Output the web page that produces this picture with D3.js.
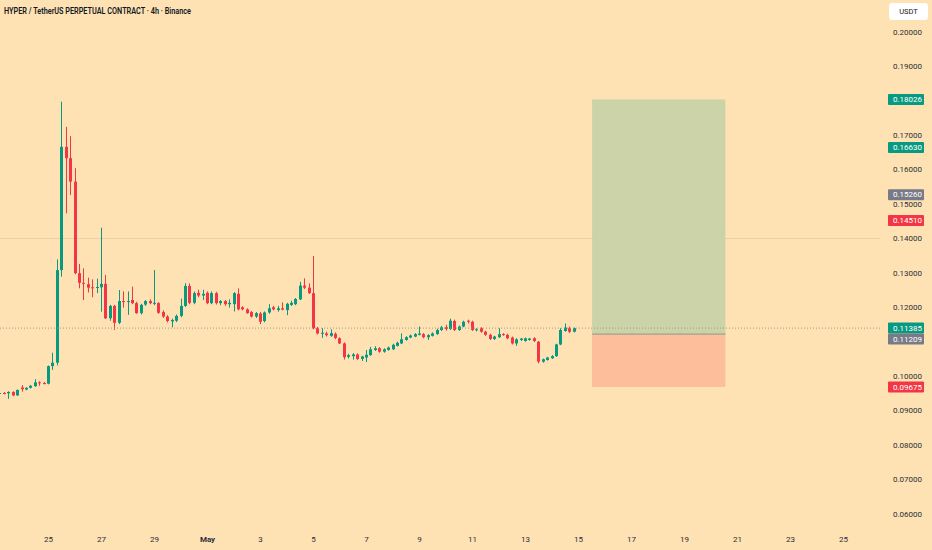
<!DOCTYPE html>
<html><head><meta charset="utf-8">
<script src="https://cdn.jsdelivr.net/npm/d3@7/dist/d3.min.js"></script>
<style>
html,body{margin:0;padding:0;background:#fee2b4;}
svg{display:block;}
text{font-family:Roboto,"Liberation Sans",Arial,sans-serif;}
</style></head>
<body>
<svg id="chart" width="932" height="550"></svg>
<script>
// ---- DATA ----
const title = "HYPER / TetherUS PERPETUAL CONTRACT · 4h · Binance";
const firstCandle = "2025-04-23T04:00:00Z"; // 4h candles
const opens  = [.0948,.0950,.0949,.0953,.0943,.0966,.0960,.0965,.0970,.0981,.0979,
 .0977,.1028,.1038,.1307,.1665,.1632,.1564,.1298,.1270,.1266,.1257,.1255,.1257,.1267,.1167,.1203,.1154,.1217,.1214,.1220,
 .1211,.1182,.1207,.1217,.1210,.1211,.1185,.1172,.1158,.1160,.1174,.1203,.1261,.1212,.1241,.1233,.1241,.1211,.1240,.1211,
 .1217,.1208,.1208,.1238,.1199,.1193,.1185,.1172,.1181,.1159,.1184,.1199,.1191,.1196,.1191,.1206,.1208,.1222,.1262,.1256,
 .1240,.1138,.1122,.1123,.1116,.1122,.1109,.1094,.1055,.1057,.1062,.1049,.1053,.1060,.1075,.1080,.1070,.1075,.1077,.1087,
 .1094,.1104,.1111,.1114,.1119,.1121,.1112,.1116,.1121,.1133,.1141,.1136,.1159,.1133,.1143,.1160,.1157,.1133,.1138,.1128,
 .1119,.1107,.1112,.1121,.1119,.1111,.1094,.1104,.1101,.1104,.1109,.1099,.1041,.1046,.1051,.1057,.1091,.1130,.1138,.1128];
const highs  = [.0952,.0953,.0955,.0955,.0960,.0973,.0967,.0973,.0990,.0984,.0982,
 .1030,.1067,.1338,.1796,.1723,.1696,.1603,.1325,.1312,.1285,.1280,.1282,.1430,.1293,.1206,.1206,.1249,.1245,.1245,.1259,
 .1215,.1209,.1220,.1222,.1307,.1214,.1190,.1176,.1166,.1178,.1224,.1269,.1268,.1245,.1250,.1250,.1245,.1245,.1244,.1220,
 .1220,.1222,.1243,.1254,.1202,.1196,.1188,.1185,.1185,.1187,.1208,.1203,.1203,.1213,.1212,.1218,.1226,.1273,.1283,.1268,
 .1348,.1142,.1138,.1128,.1135,.1126,.1112,.1097,.1064,.1066,.1065,.1058,.1075,.1084,.1086,.1083,.1080,.1085,.1093,.1099,
 .1123,.1115,.1120,.1124,.1143,.1124,.1121,.1126,.1137,.1145,.1148,.1166,.1163,.1146,.1160,.1163,.1160,.1138,.1141,.1131,
 .1122,.1116,.1138,.1124,.1122,.1114,.1109,.1110,.1111,.1110,.1112,.1101,.1050,.1055,.1060,.1093,.1138,.1152,.1143,.1140];
const lows   = [.0945,.0946,.0933,.0941,.0942,.0954,.0958,.0963,.0968,.0971,.0975,
 .0975,.1017,.1030,.1288,.1472,.1525,.1295,.1254,.1220,.1242,.1228,.1240,.1186,.1165,.1160,.1133,.1150,.1198,.1177,.1208,
 .1180,.1178,.1203,.1208,.1205,.1180,.1168,.1155,.1141,.1156,.1170,.1200,.1208,.1208,.1228,.1220,.1208,.1208,.1207,.1205,
 .1203,.1198,.1187,.1190,.1190,.1180,.1169,.1168,.1150,.1155,.1180,.1190,.1186,.1190,.1176,.1203,.1205,.1220,.1252,.1238,
 .1135,.1120,.1110,.1114,.1113,.1106,.1092,.1047,.1050,.1047,.1046,.1043,.1040,.1058,.1072,.1067,.1067,.1073,.1075,.1085,
 .1092,.1102,.1109,.1112,.1117,.1109,.1104,.1114,.1119,.1130,.1131,.1133,.1130,.1130,.1141,.1152,.1130,.1129,.1125,.1116,
 .1104,.1104,.1110,.1116,.1106,.1091,.1087,.1101,.1099,.1102,.1098,.1036,.1038,.1044,.1049,.1055,.1089,.1128,.1124,.1126];
const closes = [.0950,.0949,.0953,.0943,.0959,.0961,.0965,.0971,.0981,.0979,.0976,
 .1028,.1038,.1307,.1665,.1632,.1564,.1298,.1270,.1267,.1256,.1255,.1258,.1267,.1167,.1203,.1154,.1217,.1214,.1217,.1211,
 .1182,.1206,.1217,.1211,.1212,.1183,.1172,.1159,.1162,.1174,.1203,.1261,.1212,.1240,.1233,.1238,.1211,.1240,.1211,.1217,
 .1208,.1212,.1240,.1193,.1193,.1182,.1172,.1182,.1157,.1184,.1196,.1193,.1196,.1192,.1209,.1212,.1223,.1262,.1256,.1240,
 .1138,.1123,.1125,.1118,.1124,.1110,.1094,.1054,.1060,.1062,.1049,.1056,.1061,.1077,.1080,.1070,.1077,.1082,.1090,.1096,
 .1106,.1112,.1117,.1121,.1123,.1112,.1118,.1123,.1133,.1141,.1136,.1160,.1133,.1143,.1157,.1157,.1133,.1135,.1128,.1119,
 .1107,.1114,.1121,.1119,.1109,.1094,.1106,.1108,.1109,.1108,.1101,.1041,.1048,.1053,.1057,.1091,.1133,.1140,.1128,.11385];

const yTicks = [0.06,0.07,0.08,0.09,0.10,0.11,0.12,0.13,0.14,0.15,0.16,0.17,0.18,0.19,0.20];
const xTickDates = ["2025-04-25","2025-04-27","2025-04-29","2025-05-01","2025-05-03","2025-05-05","2025-05-07","2025-05-09",
  "2025-05-11","2025-05-13","2025-05-15","2025-05-17","2025-05-19","2025-05-21","2025-05-23","2025-05-25"];
const xTickLabels = ["25","27","29","May","3","5","7","9","11","13","15","17","19","21","23","25"];

// position tool
const positionStart = "2025-05-15T12:45:00Z", positionEnd = "2025-05-20T13:30:00Z";
const targetPrice = 0.18026, entryPrice = 0.11209, stopPrice = 0.09675;
const gridPrice = 0.14;
const lastPrice = 0.11385;
const priceLabels = [
  {v:0.18026, kind:"up"}, {v:0.16630, kind:"up"}, {v:0.15260, kind:"grey"}, {v:0.14510, kind:"down"},
  {v:0.11385, kind:"up"}, {v:0.11209, kind:"grey"}, {v:0.09675, kind:"down"}];

// ---- CHART ----
const W = 932, H = 550, plotRight = 880;
const UP = "#089981", DOWN = "#f23645", GREY = "#787b86";
const svg = d3.select("#chart");
svg.append("rect").attr("width",W).attr("height",H).attr("fill","#fee2b4");

const x = d3.scaleUtc()
  .domain([new Date("2025-04-25T00:00:00Z"), new Date("2025-05-25T00:00:00Z")])
  .range([48, 843]);
const y = d3.scaleLinear().domain([0.06, 0.20]).range([513.5, 31.5]);

const t0 = new Date(firstCandle).getTime();
const candles = opens.map((o,i)=>({t:new Date(t0 + i*4*3600*1000), o, h:highs[i], l:lows[i], c:closes[i]}));

// grid line at 0.14
svg.append("line").attr("x1",0).attr("x2",plotRight)
  .attr("y1",Math.round(y(gridPrice))+0.5).attr("y2",Math.round(y(gridPrice))+0.5)
  .attr("stroke","#e9cfa6").attr("stroke-width",1);

// position box
const px0 = x(new Date(positionStart)), px1 = x(new Date(positionEnd));
svg.append("rect").attr("x",px0).attr("width",px1-px0)
  .attr("y",y(targetPrice)).attr("height",y(entryPrice)-y(targetPrice)).attr("fill","#ccd3a8");
svg.append("rect").attr("x",px0).attr("width",px1-px0)
  .attr("y",y(entryPrice)).attr("height",y(stopPrice)-y(entryPrice)).attr("fill","#fdbe9c");
svg.append("line").attr("x1",px0).attr("x2",px1).attr("y1",y(entryPrice)).attr("y2",y(entryPrice))
  .attr("stroke","#a39f8a").attr("stroke-width",1.2);

// candles
const cw = 3;
const g = svg.append("g");
const cg = g.selectAll("g.c").data(candles).join("g").attr("class","c");
cg.append("line")
  .attr("x1",d=>Math.round(x(d.t))+0.5).attr("x2",d=>Math.round(x(d.t))+0.5)
  .attr("y1",d=>y(d.h)).attr("y2",d=>y(d.l))
  .attr("stroke",d=>d.c>=d.o?UP:DOWN).attr("stroke-width",1);
cg.append("rect")
  .attr("x",d=>Math.round(x(d.t))+0.5-cw/2).attr("width",cw)
  .attr("y",d=>y(Math.max(d.o,d.c)))
  .attr("height",d=>Math.max(1,Math.abs(y(d.o)-y(d.c))))
  .attr("fill",d=>d.c>=d.o?UP:DOWN);

// last price dotted line
svg.append("line").attr("x1",0).attr("x2",plotRight)
  .attr("y1",y(lastPrice)).attr("y2",y(lastPrice))
  .attr("stroke","#9c9a8c").attr("stroke-width",1).attr("stroke-dasharray","1,2");

// title
svg.append("text").attr("x",4).attr("y",13.5).text(title)
  .attr("font-size",8.4).attr("font-weight",600).attr("fill","#131722")
  .attr("textLength",187).attr("lengthAdjust","spacingAndGlyphs");

// price labels with collision avoidance (push down)
const labelH = 11;
const placed = priceLabels.map(p=>({...p, py:y(p.v)})).sort((a,b)=>a.py-b.py);
for (let i=1;i<placed.length;i++){
  if (placed[i].py - placed[i-1].py < labelH) placed[i].py = placed[i-1].py + labelH;
}

// right axis
const yAxis = d3.axisRight(y).tickValues(yTicks.filter(v=>!placed.some(p=>Math.abs(p.py-y(v))<8)))
  .tickFormat(d=>d.toFixed(5)).tickSize(0).tickPadding(0);
const ya = svg.append("g").attr("transform","translate(893,0)").call(yAxis);
ya.select(".domain").remove();
ya.selectAll("text").attr("font-size",8).attr("fill","#2a2e39").attr("font-family","Roboto, Liberation Sans, sans-serif");

const pl = svg.append("g").selectAll("g").data(placed).join("g")
  .attr("transform",d=>`translate(888,${d.py})`);
pl.append("rect").attr("x",0).attr("y",-5.5).attr("width",36).attr("height",labelH).attr("rx",1)
  .attr("fill",d=>d.kind==="up"?UP:d.kind==="down"?DOWN:GREY);
pl.append("text").attr("x",5).attr("dy","0.32em").text(d=>d.v.toFixed(5))
  .attr("font-size",8).attr("fill","#fff");

// USDT box
svg.append("rect").attr("x",889).attr("y",3).attr("width",39).attr("height",17).attr("rx",3).attr("fill","#fff");
svg.append("text").attr("x",908.5).attr("y",11.5).attr("dy","0.35em").attr("text-anchor","middle")
  .text("USDT").attr("font-size",7.5).attr("fill","#131722");

// x axis
const xAxis = d3.axisBottom(x).tickValues(xTickDates.map(s=>new Date(s+"T00:00:00Z")))
  .tickFormat((d,i)=>xTickLabels[i]).tickSize(0).tickPadding(0);
const xa = svg.append("g").attr("transform","translate(0,536)").call(xAxis);
xa.select(".domain").remove();
xa.selectAll("text").attr("font-size",8).attr("fill","#2a2e39")
  .attr("font-weight",(d,i)=>xTickLabels[i]==="May"?700:400);
</script>
</body></html>
